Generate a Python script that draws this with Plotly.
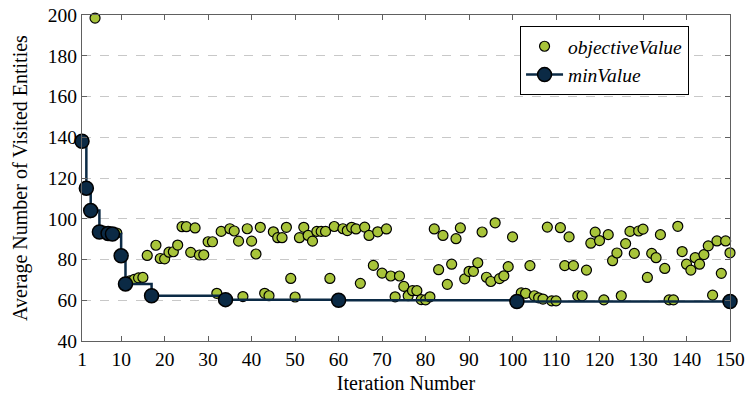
import plotly.graph_objects as go

iterations = list(range(1, 151))
objective_value = [
    138, 115, 104, 198.5, 93.5, 94, 92.8, 92.5, 93, 81.8,
    68, 69.5, 70.2, 71, 71.2, 82, 62.2, 87, 80.5, 80.3,
    83.6, 83.8, 87.1, 96.1, 96.1, 83.5, 95.5, 82.2, 82.3, 88.7,
    88.7, 63.4, 93.8, 60.3, 95.1, 94, 89, 61.8, 95.1, 89,
    82.7, 95.8, 63.4, 62.2, 93.6, 90.7, 90.7, 95.8, 70.7, 61.6,
    90.7, 95.8, 91.8, 89, 93.8, 93.8, 93.8, 70.7, 96.2, 60.0,
    95.1, 94.2, 95.8, 95, 68.3, 95.9, 91.8, 77.1, 93.6, 73.3,
    95, 71.9, 61.7, 71.9, 66.8, 62.2, 64.7, 64.7, 60.3, 60.2,
    61.7, 95, 75, 91.8, 67.8, 77.7, 90.2, 95.5, 70.5, 74.2,
    74.2, 78.4, 93.5, 71.3, 69.2, 98, 70.6, 72, 76.5, 91.1,
    59.4, 63.6, 63.4, 77, 62.2, 61.2, 60.6, 95.9, 59.7, 59.7,
    95.6, 77, 91.1, 77, 62.2, 62.2, 74.8, 88, 93.4, 89.3,
    60.2, 92.2, 79.4, 83.2, 62.2, 87.8, 93.8, 83, 94, 94.9,
    71.2, 83, 80.9, 92.2, 75.6, 60.2, 60.2, 96.3, 83.9, 77.7,
    74.8, 80.9, 77.7, 82.4, 86.7, 62.5, 89.1, 73.2, 89.1, 83.3,
]
min_iterations = [1, 2, 3, 5, 7, 8, 10, 11, 17, 34, 60, 101, 150]
min_values = [138, 115, 104, 93.5, 92.8, 92.5, 81.8, 68, 62.2, 60.3, 60.0, 59.4, 59.4]

x_ticks = [1, 10, 20, 30, 40, 50, 60, 70, 80, 90, 100, 110, 120, 130, 140, 150]
y_ticks = [40, 60, 80, 100, 120, 140, 160, 180, 200]

GREEN = "#a8c43a"
NAVY = "#0b2a45"
FONT = "Liberation Serif, Tinos, Times New Roman, Times, DejaVu Serif, serif"
AXIS = "#606060"

fig = go.Figure()
fig.add_trace(go.Scatter(
    x=iterations, y=objective_value, mode="markers", name="objectiveValue",
    marker=dict(color=GREEN, size=10, line=dict(color="black", width=1.2)),
    cliponaxis=False,
))
fig.add_trace(go.Scatter(
    x=min_iterations, y=min_values, mode="lines+markers", name="minValue",
    line=dict(color=NAVY, width=2.5, shape="hv"),
    marker=dict(color=NAVY, size=14, line=dict(color="black", width=1.5)),
    cliponaxis=False,
))

fig.update_layout(
    width=747, height=394,
    margin=dict(l=82, r=17, t=15, b=53, autoexpand=False),
    paper_bgcolor="white", plot_bgcolor="white",
    font=dict(family=FONT, size=19, color="black"),
    showlegend=True,
    legend=dict(
        x=0.676, y=0.966, xanchor="left", yanchor="top",
        bgcolor="white", bordercolor="black", borderwidth=1,
        font=dict(family=FONT, size=19.5, style="italic"),
        itemsizing="trace", itemwidth=37, tracegroupgap=0,
    ),
)
fig.update_xaxes(
    range=[1, 150], tickvals=x_ticks, ticktext=[str(t) for t in x_ticks],
    showgrid=False, zeroline=False, automargin=False,
    showline=True, linecolor=AXIS, linewidth=1.2, mirror="allticks",
    ticks="inside", ticklen=5, tickcolor=AXIS,
    tickfont=dict(family=FONT, size=19.5),
    title=dict(text="Iteration Number", font=dict(family=FONT, size=20), standoff=12),
)
fig.update_yaxes(
    range=[40, 200], tickvals=y_ticks, ticktext=[str(t) for t in y_ticks],
    showgrid=True, gridcolor="#c8c8c8", griddash="dash", gridwidth=1,
    zeroline=False, automargin=False,
    showline=True, linecolor=AXIS, linewidth=1.2, mirror="allticks",
    ticks="inside", ticklen=5, tickcolor=AXIS,
    tickfont=dict(family=FONT, size=19.5),
    title=dict(text="Average Number of Visited Entities", font=dict(family=FONT, size=20), standoff=14),
)

fig.write_html(
    "out.html",
    config={"displayModeBar": False},
    post_script="document.body.style.margin='0';document.body.style.padding='0';",
)
